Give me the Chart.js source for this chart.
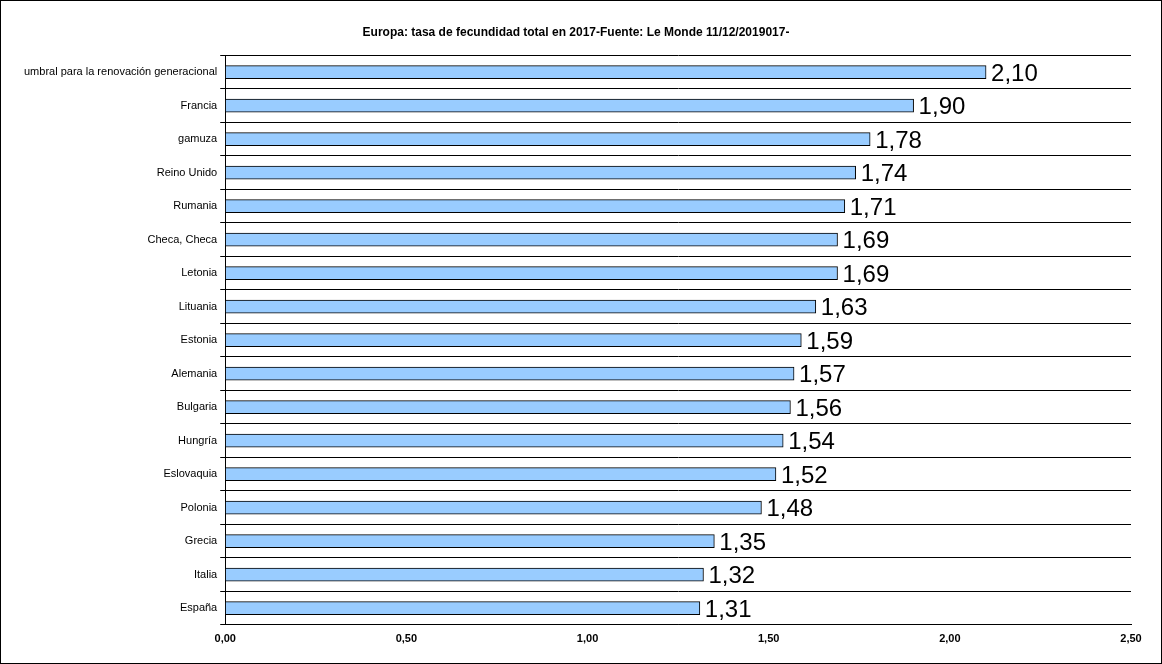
<!DOCTYPE html>
<html>
<head>
<meta charset="utf-8">
<script src="https://cdn.jsdelivr.net/npm/chart.js@4"></script>
<style>
  html, body { margin: 0; padding: 0; background: #fff; }
  #wrap { width: 1160px; height: 662px; border: 1px solid #000; }
  canvas { display: block; }
</style>
</head>
<body>
<div id="wrap"><canvas id="myChart" width="1160" height="662"></canvas></div>
<script>
const countries = ['umbral para la renovación generacional', 'Francia', 'gamuza', 'Reino Unido', 'Rumania',
  'Checa, Checa', 'Letonia', 'Lituania', 'Estonia', 'Alemania', 'Bulgaria', 'Hungría', 'Eslovaquia',
  'Polonia', 'Grecia', 'Italia', 'España'];
const fertility = [2.10, 1.90, 1.78, 1.74, 1.71, 1.69, 1.69, 1.63, 1.59, 1.57, 1.56, 1.54, 1.52, 1.48, 1.35, 1.32, 1.31];
const xTicks = [0, 0.5, 1, 1.5, 2, 2.5];

const fmt = v => v.toFixed(2).replace('.', ',');

// draws the big value next to each bar
const valueLabels = {
  id: 'valueLabels',
  afterDatasetsDraw(chart) {
    const ctx = chart.ctx;
    ctx.save();
    ctx.font = '24px "Liberation Sans", Arial, sans-serif';
    ctx.fillStyle = '#000';
    ctx.textBaseline = 'middle';
    chart.getDatasetMeta(0).data.forEach((bar, i) => {
      ctx.fillText(fmt(fertility[i]), bar.x + 5, bar.y + 2);
    });
    ctx.restore();
  }
};

new Chart(document.getElementById('myChart'), {
  type: 'bar',
  data: {
    labels: countries,
    datasets: [{
      data: fertility,
      backgroundColor: '#99ccff',
      borderColor: '#000',
      borderWidth: 1,
      borderSkipped: false,
      barThickness: 13
    }]
  },
  options: {
    indexAxis: 'y',
    responsive: false,
    animation: false,
    devicePixelRatio: 1,
    layout: { padding: { left: 20, right: 30, top: 8, bottom: 14 } },
    scales: {
      x: {
        min: 0, max: 2.5,
        afterBuildTicks: axis => { axis.ticks = xTicks.map(v => ({ value: v })); },
        grid: { display: false, drawTicks: true, tickLength: 5, color: '#000' },
        border: { color: '#000' },
        ticks: {
          color: '#000',
          maxRotation: 0,
          font: { family: '"Liberation Sans", Arial', size: 11, weight: 'bold' },
          callback: v => fmt(v)
        }
      },
      y: {
        grid: { offset: true, color: '#000', drawTicks: true, tickLength: 5 },
        border: { color: '#000' },
        ticks: {
          color: '#000',
          autoSkip: false,
          font: { family: '"Liberation Sans", Arial', size: 11 }
        }
      }
    },
    plugins: {
      legend: { display: false },
      tooltip: { enabled: false },
      title: {
        display: true,
        text: 'Europa: tasa de fecundidad total en 2017-Fuente: Le Monde 11/12/2019017-',
        color: '#000',
        font: { family: '"Liberation Sans", Arial', size: 12, weight: 'bold' },
        padding: { top: 16, bottom: 16 }
      }
    }
  },
  plugins: [valueLabels]
});
</script>
</body>
</html>
